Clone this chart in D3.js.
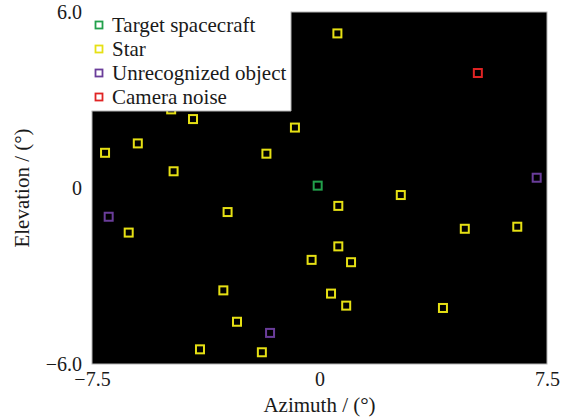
<!DOCTYPE html>
<html>
<head>
<meta charset="utf-8">
<script src="https://cdnjs.cloudflare.com/ajax/libs/d3/7.8.5/d3.min.js"></script>
<style>
  body { margin: 0; background: #fff; }
  text { font-family: "Liberation Serif", "Times New Roman", serif; fill: #1a1a1a; }
</style>
</head>
<body>
<script>
// observed objects, azimuth / elevation in degrees
var starAz = [-4.89, -4.17, -0.81, -5.99, -7.07, -1.75, -4.81, -3.03, -6.29, -0.26, -3.17, -2.72,
  -3.94, -1.90, 0.59, 2.68, 0.62, 4.79, 6.52, 0.62, 1.04, 0.38, 0.88, 4.07];
var starEl = [2.68, 2.35, 2.06, 1.52, 1.20, 1.17, 0.57, -0.82, -1.52, -2.45, -3.49, -4.56,
  -5.50, -5.60, 5.27, -0.24, -0.61, -1.39, -1.32, -1.99, -2.53, -3.60, -4.01, -4.09];
var targetAz = [-0.06];
var targetEl = [0.08];
var unknownAz = [-6.95, -1.63, 7.16];
var unknownEl = [-0.98, -4.94, 0.35];
var noiseAz = [5.22];
var noiseEl = [3.92];

var xTicks = [-7.5, 0, 7.5];
var yTicks = [-6, 0, 6];

var series = [
  {name: 'Target spacecraft', color: '#22a04b', az: targetAz, el: targetEl},
  {name: 'Star', color: '#e6e014', az: starAz, el: starEl},
  {name: 'Unrecognized object', color: '#6a3d9a', az: unknownAz, el: unknownEl},
  {name: 'Camera noise', color: '#e02424', az: noiseAz, el: noiseEl}
];

var width = 566;
var height = 420;
var plotLeft = 92, plotRight = 547, plotTop = 12, plotBottom = 364;

var svg = d3.select('body').append('svg')
  .attr('width', width)
  .attr('height', height);

var x = d3.scaleLinear().domain([-7.5, 7.5]).range([plotLeft, plotRight]);
var y = d3.scaleLinear().domain([-6, 6]).range([plotBottom, plotTop]);

var fmt = function(d) { return d === 0 ? '0' : d3.format('.1f')(d); };

// plot background
svg.append('rect')
  .attr('x', plotLeft)
  .attr('y', plotTop)
  .attr('width', plotRight - plotLeft)
  .attr('height', plotBottom - plotTop)
  .style('fill', '#000')
  .style('stroke', '#b4b4b4')
  .style('stroke-width', 1);

var xAxis = svg.append('g')
  .attr('transform', 'translate(0,' + plotBottom + ')')
  .call(d3.axisBottom(x).tickValues(xTicks).tickSize(0).tickPadding(8).tickFormat(fmt));
xAxis.select('.domain').remove();
xAxis.selectAll('text').style('font-size', '20px').style('font-family', '"Liberation Serif", serif').attr('fill', '#1a1a1a');

var yAxis = svg.append('g')
  .attr('transform', 'translate(' + plotLeft + ',0)')
  .call(d3.axisLeft(y).tickValues(yTicks).tickSize(0).tickPadding(10).tickFormat(fmt));
yAxis.select('.domain').remove();
yAxis.selectAll('text').style('font-size', '20px').style('font-family', '"Liberation Serif", serif').attr('fill', '#1a1a1a');

// markers
var markerSize = 8;
series.forEach(function(s) {
  svg.append('g').selectAll('rect')
    .data(s.az.map(function(a, i) { return {az: a, el: s.el[i]}; }))
    .enter().append('rect')
    .attr('x', function(d) { return x(d.az) - markerSize / 2; })
    .attr('y', function(d) { return y(d.el) - markerSize / 2; })
    .attr('width', markerSize)
    .attr('height', markerSize)
    .style('fill', 'none')
    .style('stroke', s.color)
    .style('stroke-width', 2);
});

// legend box sits over the upper-left corner of the plot
var legW = 199, legH = 99;
svg.append('rect')
  .attr('x', plotLeft - 1)
  .attr('y', 0)
  .attr('width', legW + 1)
  .attr('height', plotTop + legH)
  .style('fill', '#fff');
svg.append('path')
  .attr('d', 'M' + (plotLeft - 0.5) + ',' + (plotTop + legH) + 'H' + (plotLeft + legW) + 'V' + (plotTop - 0.5))
  .style('fill', 'none')
  .style('stroke', '#b4b4b4')
  .style('stroke-width', 1);

var legend = svg.append('g');
series.forEach(function(s, i) {
  var cy = 25 + i * 24;
  legend.append('rect')
    .attr('x', 99 - 3.5)
    .attr('y', cy - 3.5)
    .attr('width', 7)
    .attr('height', 7)
    .style('fill', 'none')
    .style('stroke', s.color)
    .style('stroke-width', 1.8);
  legend.append('text')
    .attr('x', 112)
    .attr('y', cy + 7)
    .style('font-size', '21px')
    .text(s.name);
});

// axis titles
svg.append('text')
  .attr('x', (plotLeft + plotRight) / 2)
  .attr('y', 412)
  .attr('text-anchor', 'middle')
  .style('font-size', '21px')
  .text('Azimuth / (°)');

svg.append('text')
  .attr('transform', 'translate(29,188) rotate(-90)')
  .attr('text-anchor', 'middle')
  .style('font-size', '21px')
  .text('Elevation / (°)');
</script>
</body>
</html>
